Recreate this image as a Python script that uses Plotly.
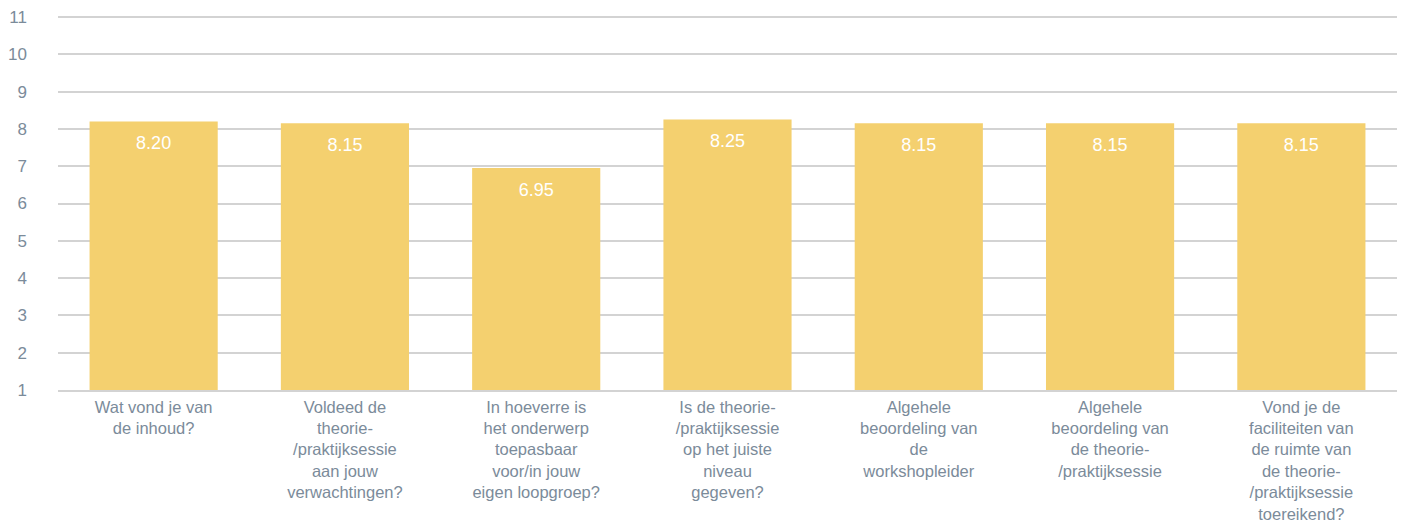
import plotly.graph_objects as go

categories = [
    "Wat vond je van<br>de inhoud?",
    "Voldeed de<br>theorie-<br>/praktijksessie<br>aan jouw<br>verwachtingen?",
    "In hoeverre is<br>het onderwerp<br>toepasbaar<br>voor/in jouw<br>eigen loopgroep?",
    "Is de theorie-<br>/praktijksessie<br>op het juiste<br>niveau<br>gegeven?",
    "Algehele<br>beoordeling van<br>de<br>workshopleider",
    "Algehele<br>beoordeling van<br>de theorie-<br>/praktijksessie",
    "Vond je de<br>faciliteiten van<br>de ruimte van<br>de theorie-<br>/praktijksessie<br>toereikend?",
]
values = [8.20, 8.15, 6.95, 8.25, 8.15, 8.15, 8.15]
tick_vals = [1, 2, 3, 4, 5, 6, 7, 8, 9, 10, 11]

FONT = "Liberation Sans, Arial, sans-serif"
TXT = "#7b8b9a"
GRID = "#d3d3d3"
PX_PER_UNIT = 37.3

fig = go.Figure()
fig.add_trace(
    go.Bar(
        x=categories,
        y=values,
        marker=dict(color="#F4D06F", line=dict(width=0)),
        width=0.67,
        hoverinfo="skip",
    )
)
# value labels placed just below the top of each bar
fig.add_trace(
    go.Scatter(
        x=categories,
        y=values,
        mode="markers+text",
        marker=dict(size=21, opacity=0),
        text=[f"{v:.2f}" for v in values],
        textposition="bottom center",
        textfont=dict(color="white", size=18, family=FONT),
        hoverinfo="skip",
        cliponaxis=False,
    )
)

fig.update_layout(
    width=1404,
    height=522,
    margin=dict(l=58, r=7, t=15, b=132),
    plot_bgcolor="white",
    paper_bgcolor="white",
    showlegend=False,
    font=dict(family=FONT, color=TXT, size=17),
)
fig.update_xaxes(
    showgrid=False,
    showline=True,
    linecolor=GRID,
    linewidth=1.5,
    zeroline=False,
    ticks="",
    ticklabelstandoff=1,
    tickfont=dict(size=16.5, color=TXT, family=FONT),
    tickangle=0,
    automargin=False,
)
fig.update_yaxes(
    range=[1, 11 + 2 / PX_PER_UNIT],
    tickvals=tick_vals,
    showgrid=True,
    gridcolor=GRID,
    gridwidth=1.5,
    zeroline=False,
    showline=False,
    ticks="",
    ticklabelstandoff=30,
    tickfont=dict(size=17, color=TXT, family=FONT),
    automargin=False,
)

fig.write_html(
    "out.html",
    config={"displayModeBar": False},
    post_script="document.body.style.margin='0';document.body.style.overflow='hidden';",
)
